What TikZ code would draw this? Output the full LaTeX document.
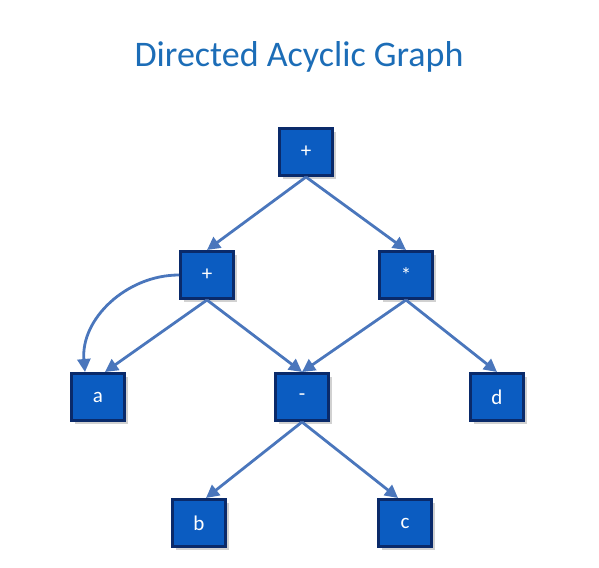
\documentclass[tikz,border=0pt]{standalone}
\usepackage{fontspec}
\setmainfont{Carlito}
\usetikzlibrary{arrows.meta,shadows}
\definecolor{boxfill}{HTML}{0B5CC1}
\definecolor{boxdraw}{HTML}{0A2A6A}
\definecolor{edgecol}{HTML}{4A76BC}
\definecolor{titlecol}{HTML}{1C6DB7}
\tikzset{
  vbox/.style={draw=boxdraw, line width=3pt, fill=boxfill, minimum width=53pt, minimum height=47pt,
    inner sep=0pt, text=white, font=\fontsize{21}{24}\selectfont,
    drop shadow={shadow xshift=3pt, shadow yshift=-3pt, opacity=0.3, fill=black!60}},
  edge/.style={draw=edgecol, line width=2.8pt, -{Triangle[length=13pt,width=13pt]}}
}
\begin{document}
\begin{tikzpicture}[x=1pt,y=-1pt]
\useasboundingbox (0,0) rectangle (599,567);
\node[text=titlecol, font=\fontsize{36}{40}\selectfont] (title) at (299,57) {Directed Acyclic Graph};
\node[vbox] (p1) at (306,152) {+};
\node[vbox] (p2) at (207,275) {+};
\node[vbox] (m) at (406,275) {*};
\node[vbox] (a) at (98,397) {a};
\node[vbox] (s) at (302,397) {-};
\node[vbox] (d) at (497,397) {d};
\node[vbox] (b) at (199,523) {b};
\node[vbox] (c) at (405,523) {c};
\draw[edge] (p1.south) -- (p2.north);
\draw[edge] (p1.south) -- (m.north);
\draw[edge] (p2.south) -- ([xshift=7pt]a.north);
\draw[edge] (p2.west) to[out=180,in=95] ([xshift=-13pt]a.north);
\draw[edge] (p2.south) -- (s.north);
\draw[edge] (m.south) -- (s.north);
\draw[edge] (m.south) -- (d.north);
\draw[edge] (s.south) -- ([xshift=7pt]b.north);
\draw[edge] (s.south) -- ([xshift=-7pt]c.north);
\end{tikzpicture}
\end{document}
